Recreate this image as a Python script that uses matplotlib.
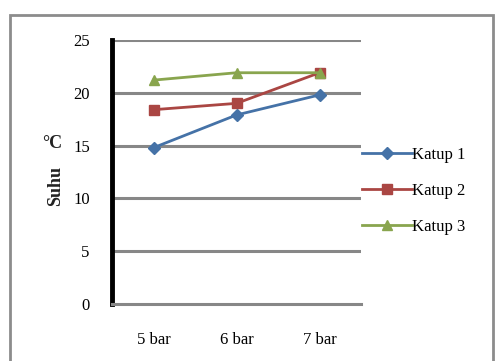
import numpy as np
from matplotlib import pyplot as plt
from matplotlib.patches import Rectangle

## data
categories = ['5 bar', '6 bar', '7 bar']
katup_1 = [14.8, 17.9, 19.8]
katup_2 = [18.4, 19.0, 21.9]
katup_3 = [21.2, 21.9, 21.9]
yticks = [0, 5, 10, 15, 20, 25]

plt.rcParams['font.family'] = ['Liberation Serif', 'DejaVu Serif']

W, H = 497, 361
fig = plt.figure(figsize=(W/100, H/100), dpi=100)

# outer chart border (bottom edge runs off the picture)
fig.patches.append(Rectangle((10/W, -10/H), 483/W, (346+10)/H, transform=fig.transFigure,
                             fill=False, edgecolor='#8c8c8c', linewidth=2, clip_on=False))

ax = fig.add_axes([112/W, 1-304/H, (361-112)/W, (304-40)/H])
x = np.arange(1, len(categories)+1)

for yv in yticks[1:]:
    ax.axhline(yv, color='#878787', linewidth=2.2, zorder=1)

ax.plot(x, katup_1, color='#4572A7', marker='D', markersize=6.5, linewidth=2, label='Katup 1', zorder=3)
ax.plot(x, katup_2, color='#AA4643', marker='s', markersize=7.5, linewidth=2, label='Katup 2', zorder=3)
ax.plot(x, katup_3, color='#89A54E', marker='^', markersize=7.5, linewidth=2, label='Katup 3', zorder=3)

ax.set_xlim(0.5, 3.5)
ax.set_ylim(0, 25)
ax.set_xticks(x)
ax.set_xticklabels(categories, fontsize=12)
ax.set_yticks(yticks)
ax.set_yticklabels([str(v) for v in yticks], fontsize=12)
ax.tick_params(length=0)
ax.tick_params(axis='y', pad=16)
ax.tick_params(axis='x', pad=20)

for s in ['top', 'right']:
    ax.spines[s].set_visible(False)
ax.spines['left'].set_color('black')
ax.spines['left'].set_linewidth(3.5)
ax.spines['bottom'].set_color('#878787')
ax.spines['bottom'].set_linewidth(2.2)

# y label: "Suhu" rotated, "°C" upright
fig.text(56/W, 1-186/H, 'Suhu', rotation=90, fontsize=13, fontweight='bold',
         ha='center', va='center', color='#222222')
fig.text(52/W, 1-143/H, '°C', fontsize=13, fontweight='bold', ha='center', va='center',
         color='#222222')

ax.legend(loc='center left', bbox_to_anchor=(355/W, 1-191/H), bbox_transform=fig.transFigure,
          frameon=False, fontsize=12, handlelength=3, labelspacing=1.2,
          handletextpad=0.0, borderaxespad=0)

fig.savefig('out.png', dpi=100)
